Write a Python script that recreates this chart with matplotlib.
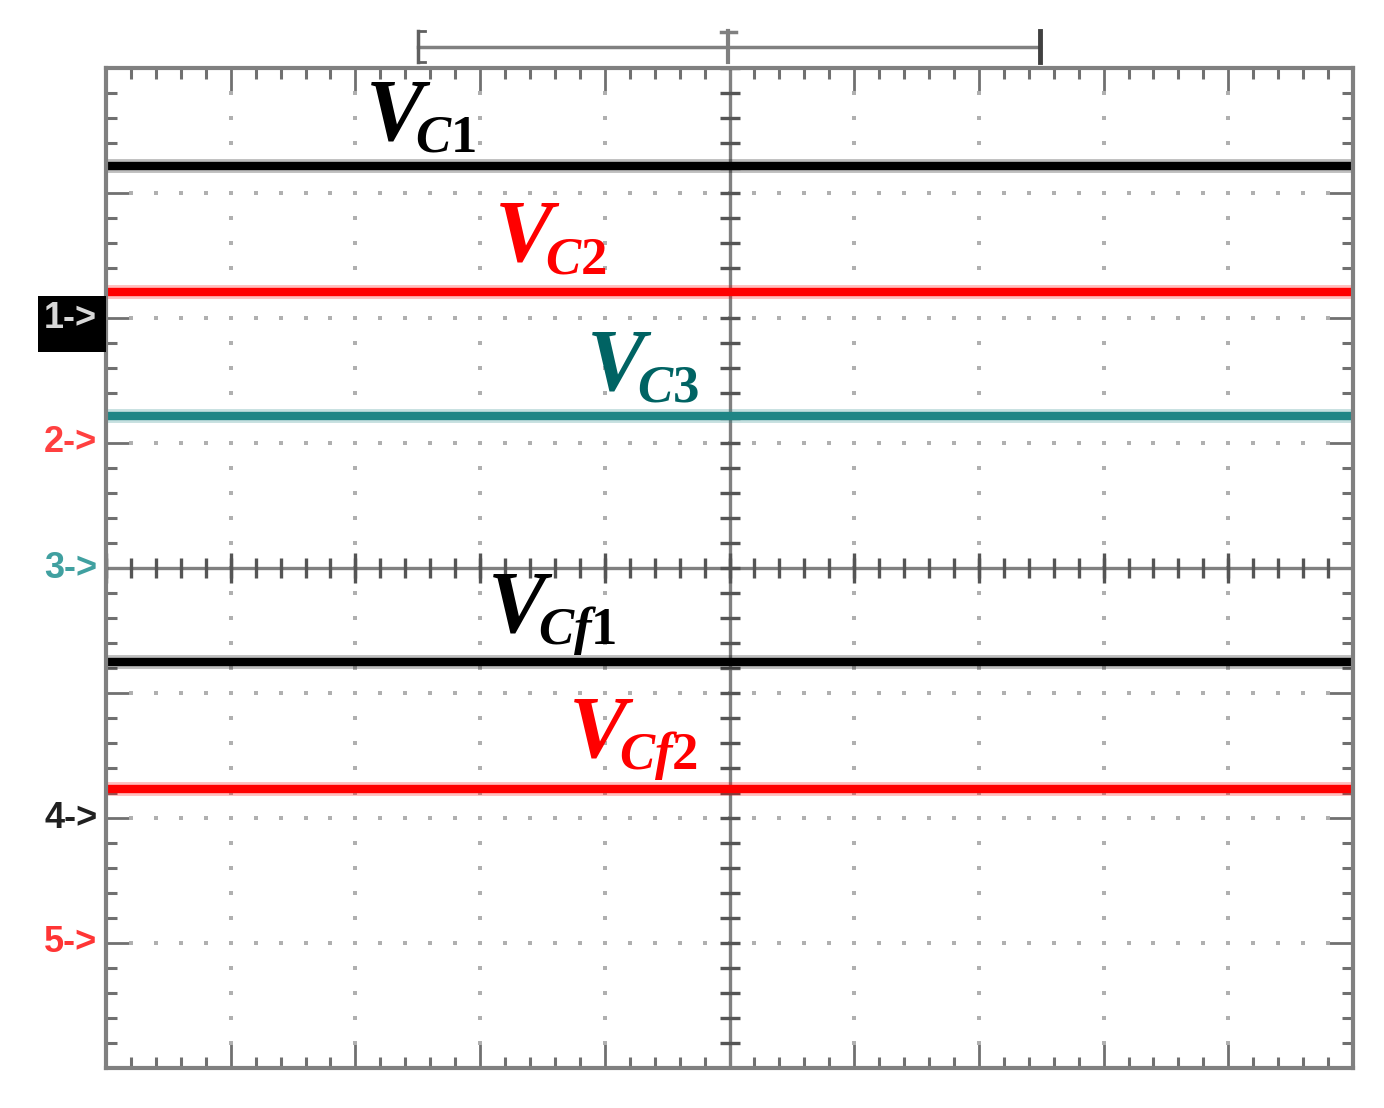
import numpy as np
import matplotlib.pyplot as plt
from matplotlib.patches import Rectangle

# trace levels in divisions (0 = bottom of screen, 8 = top)
trace_names = ["C1", "C2", "C3", "Cf1", "Cf2"]
trace_levels = [7.22, 6.21, 5.22, 3.25, 2.23]
trace_colors = ["#000000", "#ff0000", "#1e8585", "#000000", "#ff0000"]
label_colors = ["#000000", "#ff0000", "#006363", "#000000", "#ff0000"]
label_x = [2.08, 3.12, 3.86, 3.06, 3.71]
label_y = [7.43, 6.46, 5.43, 3.49, 2.49]

# channel ground markers on the left edge
marker_text = ["1->", "2->", "3->", "4->", "5->"]
marker_levels = [6.0, 5.0, 4.0, 2.0, 1.0]
marker_colors = ["#d8d8d8", "#ff4040", "#40a0a0", "#202020", "#ff3535"]

plt.rcParams["mathtext.fontset"] = "custom"
plt.rcParams["mathtext.it"] = "Liberation Serif:italic:bold"
plt.rcParams["mathtext.rm"] = "Liberation Serif:bold"
plt.rcParams["mathtext.bf"] = "Liberation Serif:bold"

fig = plt.figure(figsize=(13.84, 11.08), dpi=100)
ax = fig.add_axes([106 / 1384, 40 / 1108, 1247 / 1384, 1000 / 1108])
ax.set_xlim(0, 10)
ax.set_ylim(0, 8)

grid_c = "#808080"
for s in ax.spines.values():
    s.set_color(grid_c)
    s.set_linewidth(3)

ax.set_xticks(np.arange(0, 11))
ax.set_yticks(np.arange(0, 9))
ax.set_xticks(np.arange(0, 10.01, 0.2), minor=True)
ax.set_yticks(np.arange(0, 8.01, 0.2), minor=True)
ax.tick_params(which="both", direction="in", top=True, right=True,
               labelleft=False, labelbottom=False, color="#707070")
ax.tick_params(which="major", length=19, width=2)
ax.tick_params(which="minor", length=8, width=2.2)

# dotted graticule
fine_x = np.arange(0, 10.01, 0.2)
fine_y = np.arange(0, 8.01, 0.2)
for j in range(1, 8):
    if j == 4:
        continue
    ax.plot(fine_x, np.full_like(fine_x, j), "s", ms=2.4, color="#b0b0b0", mew=0)
for i in range(1, 10):
    if i == 5:
        continue
    ax.plot(np.full_like(fine_y, i), fine_y, "s", ms=2.4, color="#b0b0b0", mew=0)

# centre crosshair with ticks
ax.axvline(5, color=grid_c, lw=2.4)
ax.axhline(4, color=grid_c, lw=2.4)
ax.plot(np.full_like(fine_y, 5), fine_y, "_", ms=14, mew=2.4, color="#555555")
ax.plot(fine_x, np.full_like(fine_x, 4), "|", ms=14, mew=2.4, color="#555555")
ax.plot(np.arange(0, 11), np.full(11, 4), "|", ms=22, mew=2.4, color="#555555")

# traces
for lvl, c in zip(trace_levels, trace_colors):
    ax.plot([0, 10], [lvl, lvl], color=c, lw=10, alpha=0.25, solid_capstyle="butt")
    ax.plot([0, 10], [lvl, lvl], color=c, lw=6, solid_capstyle="butt")

# labels
for name, x, y, c in zip(trace_names, label_x, label_y, label_colors):
    ax.text(x, y, "V", fontsize=63, color=c, family="Liberation Serif",
            style="italic", weight="bold", ha="left", va="baseline")
    ax.annotate("$" + name + "$", xy=(x, y), xytext=(36, -9),
                textcoords="offset points", fontsize=38, color=c,
                ha="left", va="baseline")

# channel markers
ax.add_patch(Rectangle((-0.545, 5.73), 0.545, 0.45, facecolor="black",
                       edgecolor="none", clip_on=False, zorder=5))
for t, lvl, c in zip(marker_text, marker_levels, marker_colors):
    ax.text(-0.07, lvl, t, fontsize=26, family="Liberation Sans", weight="bold",
            color=c, ha="right", va="center", clip_on=False, zorder=6)

# time bracket above the screen
ax.plot([2.5, 7.49], [8.17, 8.17], color=grid_c, lw=2.5, clip_on=False)
ax.plot([2.5, 2.5], [8.05, 8.3], color="#606060", lw=2.5, clip_on=False)
ax.plot([2.5, 2.56], [8.3, 8.3], color="#606060", lw=2, clip_on=False)
ax.plot([2.5, 2.56], [8.05, 8.05], color="#606060", lw=2, clip_on=False)
ax.plot([7.49, 7.49], [8.05, 8.3], color="#404040", lw=3.5, clip_on=False)
ax.plot([4.99, 4.99], [8.05, 8.3], color=grid_c, lw=3, clip_on=False)
ax.plot([4.93, 5.05], [8.29, 8.29], color=grid_c, lw=2.5, clip_on=False)

fig.savefig("out.png", dpi=100)
